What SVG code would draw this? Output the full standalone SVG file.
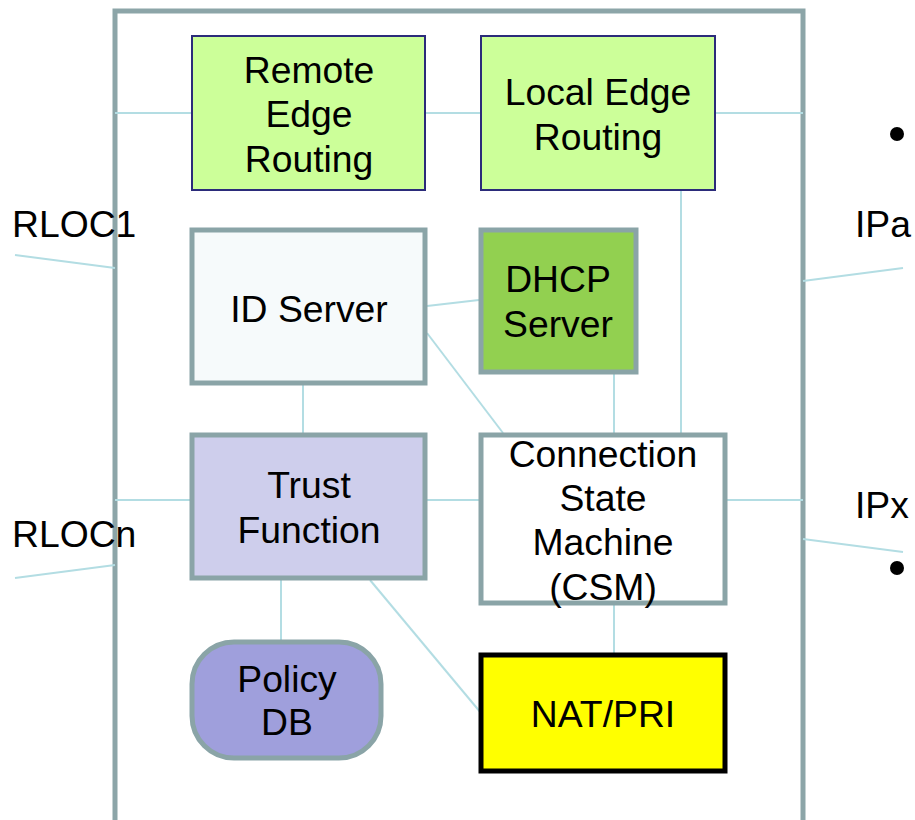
<svg xmlns="http://www.w3.org/2000/svg" width="915" height="820" viewBox="0 0 915 820">
<style>
text{font-family:"Liberation Sans",Arial,sans-serif;font-size:37.3px;fill:#000;text-anchor:middle}
.lbl{text-anchor:start}
.c{stroke:#b3dde3;stroke-width:2;fill:none}
.g{stroke:#8aa4a7;stroke-width:5}
.n{stroke:#2b2b7a;stroke-width:2}
</style>
<rect width="915" height="820" fill="#fff"/>
<g id="frame"><path d="M115,830 V11 H803 V830" fill="none" stroke="#8ca5a8" stroke-width="5"/></g>
<g id="connectors">
<line class="c" x1="115" y1="113" x2="192" y2="113"/>
<line class="c" x1="425" y1="113" x2="481" y2="113"/>
<line class="c" x1="715" y1="113" x2="803" y2="113"/>
<line class="c" x1="427" y1="306" x2="479" y2="300"/>
<line class="c" x1="427" y1="333" x2="503" y2="433"/>
<line class="c" x1="303" y1="385" x2="303" y2="433"/>
<line class="c" x1="614" y1="374" x2="614" y2="433"/>
<line class="c" x1="681" y1="190" x2="681" y2="433"/>
<line class="c" x1="115" y1="500" x2="192" y2="500"/>
<line class="c" x1="427" y1="500" x2="479" y2="500"/>
<line class="c" x1="727" y1="500" x2="803" y2="500"/>
<line class="c" x1="614" y1="605" x2="614" y2="653"/>
<line class="c" x1="281" y1="580" x2="281" y2="640"/>
<line class="c" x1="370" y1="580" x2="481" y2="713"/>
<line class="c" x1="15" y1="255" x2="115" y2="268"/>
<line class="c" x1="15" y1="578" x2="115" y2="565"/>
<line class="c" x1="803" y1="281" x2="903" y2="268"/>
<line class="c" x1="803" y1="539" x2="903" y2="552"/>
</g>
<g id="remote-edge-routing">
<rect class="n" x="192" y="36" width="233" height="154" fill="#ccff99"/>
<text x="309" y="83">Remote</text><text x="309" y="127">Edge</text><text x="309" y="172">Routing</text>
</g>
<g id="local-edge-routing">
<rect class="n" x="481" y="36" width="234" height="154" fill="#ccff99"/>
<text x="598" y="105">Local Edge</text><text x="598" y="150">Routing</text>
</g>
<g id="id-server">
<rect class="g" x="192" y="230" width="233" height="153" fill="#f6fafb"/>
<text x="309" y="322">ID Server</text>
</g>
<g id="dhcp-server">
<rect class="g" x="481" y="230" width="155" height="142" fill="#92d050"/>
<text x="558" y="292">DHCP</text><text x="558" y="337">Server</text>
</g>
<g id="trust-function">
<rect class="g" x="192" y="435" width="233" height="143" fill="#ceceec"/>
<text x="309" y="498">Trust</text><text x="309" y="543">Function</text>
</g>
<g id="csm">
<rect class="g" x="481" y="435" width="244" height="168" fill="#fff"/>
<text x="603" y="467">Connection</text><text x="603" y="511">State</text><text x="603" y="555">Machine</text><text x="603" y="600">(CSM)</text>
</g>
<g id="policy-db">
<rect class="g" x="192" y="642" width="189" height="116" rx="42" fill="#9f9fdc"/>
<text x="287" y="692">Policy</text><text x="287" y="735">DB</text>
</g>
<g id="nat-pri">
<rect x="481" y="655" width="244" height="116" fill="#ffff00" stroke="#000" stroke-width="5"/>
<text x="603" y="727">NAT/PRI</text>
</g>
<g id="labels">
<text class="lbl" x="12" y="237">RLOC1</text>
<text class="lbl" x="12" y="547">RLOCn</text>
<text class="lbl" x="855" y="237">IPa</text>
<text class="lbl" x="855" y="518">IPx</text>
<circle cx="897" cy="134" r="7" fill="#000"/>
<circle cx="897" cy="568" r="7" fill="#000"/>
</g>
</svg>
